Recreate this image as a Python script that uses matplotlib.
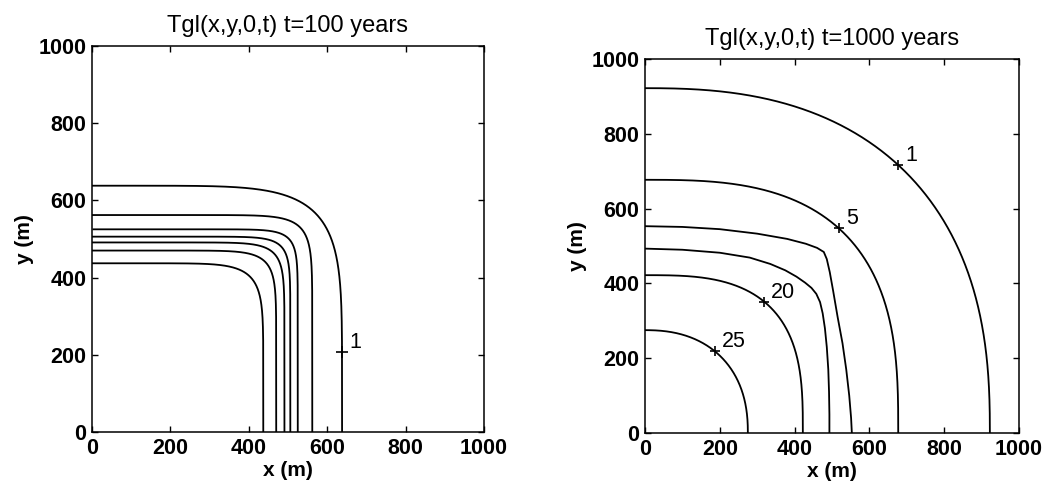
import numpy as np
import matplotlib.pyplot as plt

plt.rcParams['font.family'] = ['Liberation Sans', 'DejaVu Sans']
plt.rcParams['font.weight'] = 'bold'
plt.rcParams['axes.labelweight'] = 'bold'

# t = 100 years: where each isotherm meets the axes (m) and how square its corner is
early_cross = [638, 562, 525, 506, 491, 470, 437]
early_corner = [6, 12, 15, 14, 12, 11, 8.5]
early_label = '1'
early_label_y = 206

# t = 1000 years
late_levels = [1, 5, 10, 15, 20, 25]
late_cross = [922, 677, 553, 493, 422, 275]
late_corner = [2.48, 2.9, None, None, 3.03, 2.3]
# the 10 and 15 isotherms have a kink, so they are traced point by point
late_traced_x = {
    10: [0, 100, 200, 300, 380, 430, 460, 478, 486, 494, 503, 515, 528, 538,
         546, 551, 553],
    15: [0, 100, 200, 280, 335, 375, 405, 428, 445, 458, 468, 475, 481, 486,
         490, 492, 493, 493],
}
late_traced_y = {
    10: [553, 551, 545, 533, 519, 506, 495, 484, 465, 430, 380, 310, 240, 170,
         100, 40, 0],
    15: [493, 490, 482, 469, 452, 435, 418, 402, 388, 372, 350, 320, 280, 230,
         170, 110, 50, 0],
}
late_label_levels = [1, 5, 20, 25]
late_label_x = [677, 518, 319, 187]


def quarter(a, n, num=600):
    t = np.linspace(0, np.pi / 2, num)
    return a * np.cos(t) ** (2.0 / n), a * np.sin(t) ** (2.0 / n)


def height_at(a, n, x):
    return a * (1 - (x / a) ** n) ** (1.0 / n)


def style(ax, title):
    ax.set_xlim(0, 1000)
    ax.set_ylim(0, 1000)
    ax.set_xticks(np.arange(0, 1001, 200))
    ax.set_yticks(np.arange(0, 1001, 200))
    ax.tick_params(direction='in', top=True, right=True, length=4, width=1,
                   labelsize=15.5, pad=4)
    for s in ax.spines.values():
        s.set_linewidth(1.1)
    ax.set_title(title, fontsize=17, fontweight='normal', pad=10)
    ax.set_xlabel('x (m)', fontsize=15, labelpad=2)
    ax.set_ylabel('y (m)', fontsize=15, labelpad=3)


fig = plt.figure(figsize=(10.51, 4.88), dpi=100)
ax1 = fig.add_axes([0.0875, 0.1148, 0.373, 0.791])
ax2 = fig.add_axes([0.6137, 0.1127, 0.3559, 0.7664])

lw = 1.3

for a, n in zip(early_cross, early_corner):
    x, y = quarter(a, n)
    ax1.plot(x, y, color='k', lw=lw)
x1 = height_at(early_cross[0], early_corner[0], early_label_y)
ax1.plot(x1, early_label_y, '+', color='k', ms=8, mew=1.2)
ax1.annotate(early_label, (x1, early_label_y), xytext=(5, 3),
             textcoords='offset points', fontsize=15.5, fontweight='normal')
style(ax1, 'Tgl(x,y,0,t) t=100 years')

for lev, a, n in zip(late_levels, late_cross, late_corner):
    if n is None:
        ax2.plot(late_traced_x[lev], late_traced_y[lev], color='k', lw=lw)
    else:
        x, y = quarter(a, n)
        ax2.plot(x, y, color='k', lw=lw)

for lev, xl in zip(late_label_levels, late_label_x):
    i = late_levels.index(lev)
    yl = height_at(late_cross[i], late_corner[i], xl)
    ax2.plot(xl, yl, '+', color='k', ms=7, mew=1.2)
    ax2.annotate(str(lev), (xl, yl), xytext=(5, 3),
                 textcoords='offset points', fontsize=15.5, fontweight='normal')
style(ax2, 'Tgl(x,y,0,t) t=1000 years')

fig.savefig('out.png', dpi=100)
